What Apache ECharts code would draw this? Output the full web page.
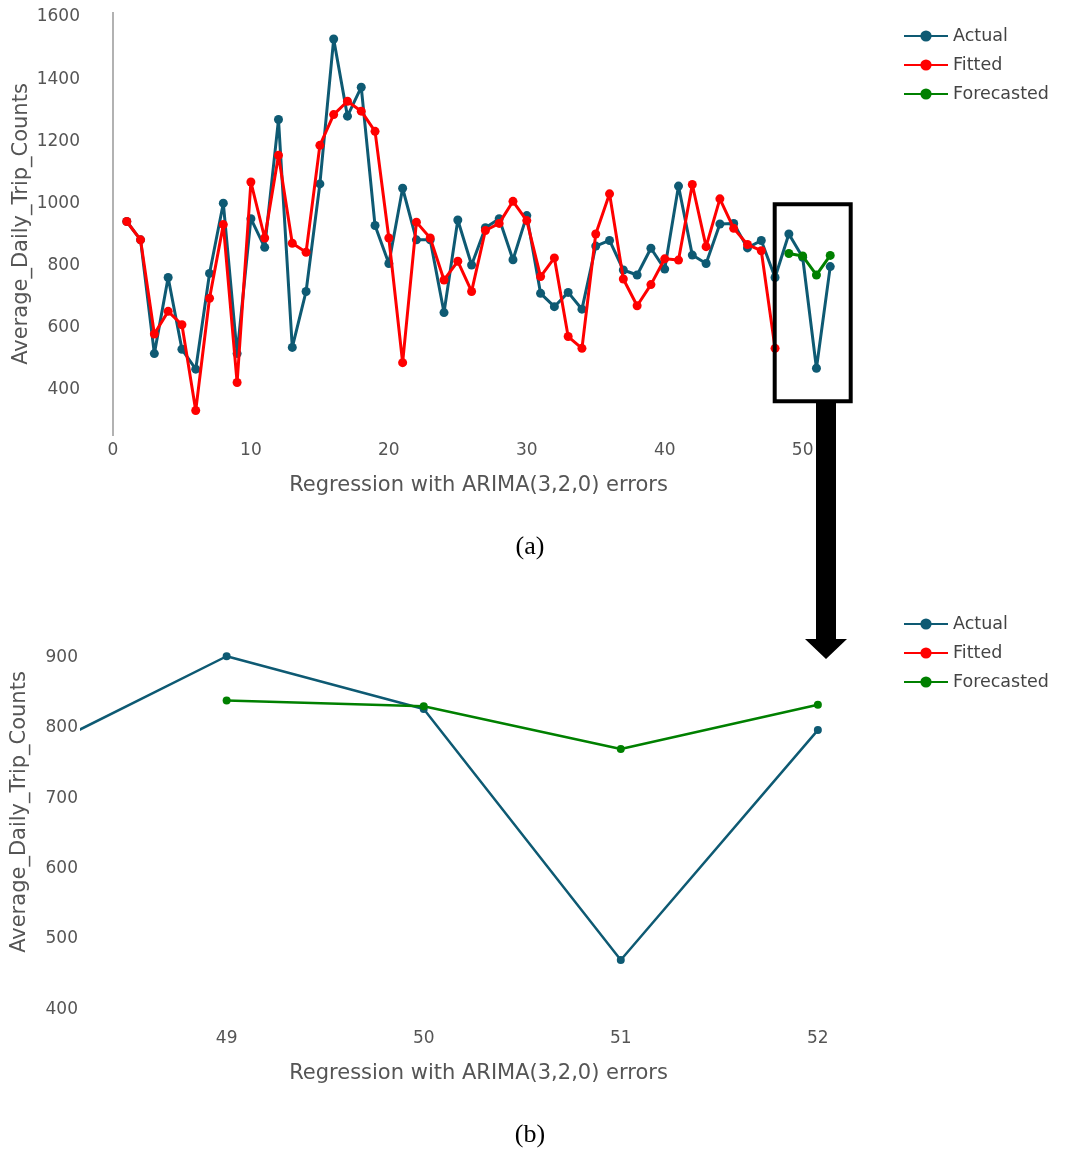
<!DOCTYPE html>
<html>
<head>
<meta charset="utf-8">
<script src="https://cdn.jsdelivr.net/npm/echarts@6/dist/echarts.min.js"></script>
<style>
  html, body { margin: 0; padding: 0; background: #fff; }
  #chart { width: 1069px; height: 1153px; }
</style>
</head>
<body>
<div id="chart"></div>
<script>
// weekly data
var weeks = [1, 2, 3, 4, 5, 6, 7, 8, 9, 10, 11, 12, 13, 14, 15, 16, 17, 18, 19, 20, 21, 22, 23, 24, 25, 26,
  27, 28, 29, 30, 31, 32, 33, 34, 35, 36, 37, 38, 39, 40, 41, 42, 43, 44, 45, 46, 47, 48, 49, 50, 51, 52];
var actual = [942, 883, 517, 762, 531, 467, 775, 1001, 517, 951, 859, 1270, 537, 717, 1063, 1529, 1281, 1374,
  929, 807, 1049, 883, 883, 649, 947, 802, 922, 951, 819, 961, 711, 668, 714, 660, 863, 881, 786, 770, 856,
  789, 1056, 834, 807, 934, 936, 857, 881, 762, 902, 827, 470, 797];
var fitted = [942, 883, 580, 653, 610, 334, 695, 932, 424, 1069, 889, 1155, 872, 843, 1187, 1286, 1329, 1297,
  1232, 889, 488, 940, 889, 754, 814, 717, 913, 936, 1007, 945, 765, 825, 572, 534, 902, 1031, 757, 671, 739,
  822, 818, 1061, 861, 1015, 920, 868, 848, 534];
var forecastWeeks = [49, 50, 51, 52];
var forecast = [839, 831, 770, 833];

var seriesNames = ['Actual', 'Fitted', 'Forecasted'];
var colors = ['#0e5a73', '#ff0000', '#008000'];
var xTitle = 'Regression with ARIMA(3,2,0) errors';
var yTitle = 'Average_Daily_Trip_Counts';

var font = '"DejaVu Sans", sans-serif';
var textColor = '#555';

function pairs(xs, ys) {
  return ys.map(function (v, i) { return [xs[i], v]; });
}

function makeSeries(idx, width, size) {
  var sets = [pairs(weeks, actual), pairs(weeks, fitted), pairs(forecastWeeks, forecast)];
  return sets.map(function (d, k) {
    return {
      name: seriesNames[k],
      type: 'line',
      xAxisIndex: idx,
      yAxisIndex: idx,
      data: d,
      symbol: 'circle',
      symbolSize: size,
      color: colors[k],
      lineStyle: { width: width },
      z: 2 + k
    };
  });
}

function xAxisOf(idx, min, max, step) {
  return {
    type: 'value',
    gridIndex: idx,
    min: min,
    max: max,
    minInterval: step,
    maxInterval: step,
    axisLine: { show: false },
    axisTick: { show: false },
    splitLine: { show: false },
    axisLabel: {
      color: textColor, fontFamily: font, fontSize: 17, margin: 6,
      showMinLabel: false, showMaxLabel: false,
      formatter: function (v) { return Math.abs(v / step - Math.round(v / step)) < 1e-6 ? String(Math.round(v)) : ''; }
    },
    name: xTitle,
    nameLocation: 'middle',
    nameGap: 39,
    nameMoveOverlap: false,
    nameTextStyle: { color: textColor, fontFamily: font, fontSize: 21 }
  };
}

function yAxisOf(idx, min, max, step) {
  return {
    type: 'value',
    gridIndex: idx,
    min: min,
    max: max,
    minInterval: step,
    maxInterval: step,
    axisLine: { show: false },
    axisTick: { show: false },
    splitLine: { show: false },
    axisLabel: {
      color: textColor, fontFamily: font, fontSize: 17, margin: 4,
      showMinLabel: false, showMaxLabel: false,
      formatter: function (v) { return Math.abs(v / step - Math.round(v / step)) < 1e-6 ? String(Math.round(v)) : ''; }
    },
    name: yTitle,
    nameLocation: 'middle',
    nameGap: 52,
    nameMoveOverlap: false,
    nameTextStyle: { color: textColor, fontFamily: font, fontSize: 21 }
  };
}

function legendOf(top) {
  return {
    data: seriesNames,
    orient: 'vertical',
    left: 898,
    top: top,
    itemWidth: 44,
    itemHeight: 14,
    itemGap: 9,
    textStyle: { color: '#444', fontFamily: font, fontSize: 17.5, lineHeight: 20 }
  };
}

var series = makeSeries(0, 3, 9).concat(makeSeries(1, 2.5, 8));
// zero line of the week axis in panel (a)
series[0].markLine = {
  silent: true,
  symbol: 'none',
  label: { show: false },
  lineStyle: { color: '#999', type: 'solid', width: 1.5 },
  data: [{ xAxis: 0 }]
};

var option = {
  animation: false,
  backgroundColor: '#fff',
  grid: [
    { left: 84, right: 196, top: 12, height: 424, outerBoundsMode: 'none' },
    { left: 82, right: 194, top: 600, height: 424, outerBoundsMode: 'none' }
  ],
  xAxis: [xAxisOf(0, -2.1, 55.1, 10), xAxisOf(1, 48.266, 52.29, 1)],
  yAxis: [yAxisOf(0, 252, 1616, 200), yAxisOf(1, 379, 982, 100)],
  legend: [legendOf(21), legendOf(609)],
  series: series,
  graphic: [
    { type: 'rect', z: 100, shape: { x: 774.7, y: 204.3, width: 76, height: 197 },
      style: { fill: 'none', stroke: '#000', lineWidth: 4 } },
    { type: 'polygon', z: 100,
      shape: { points: [[816, 403], [836, 403], [836, 639], [847, 639], [826, 659], [805, 639], [816, 639]] },
      style: { fill: '#000' } },
    { type: 'text', z: 100, x: 530, y: 547,
      style: { text: '(a)', font: '26px "Liberation Serif", serif', fill: '#000', align: 'center', verticalAlign: 'middle' } },
    { type: 'text', z: 100, x: 530, y: 1135,
      style: { text: '(b)', font: '26px "Liberation Serif", serif', fill: '#000', align: 'center', verticalAlign: 'middle' } }
  ]
};

var chart = echarts.init(document.getElementById('chart'));
chart.setOption(option);
</script>
</body>
</html>
